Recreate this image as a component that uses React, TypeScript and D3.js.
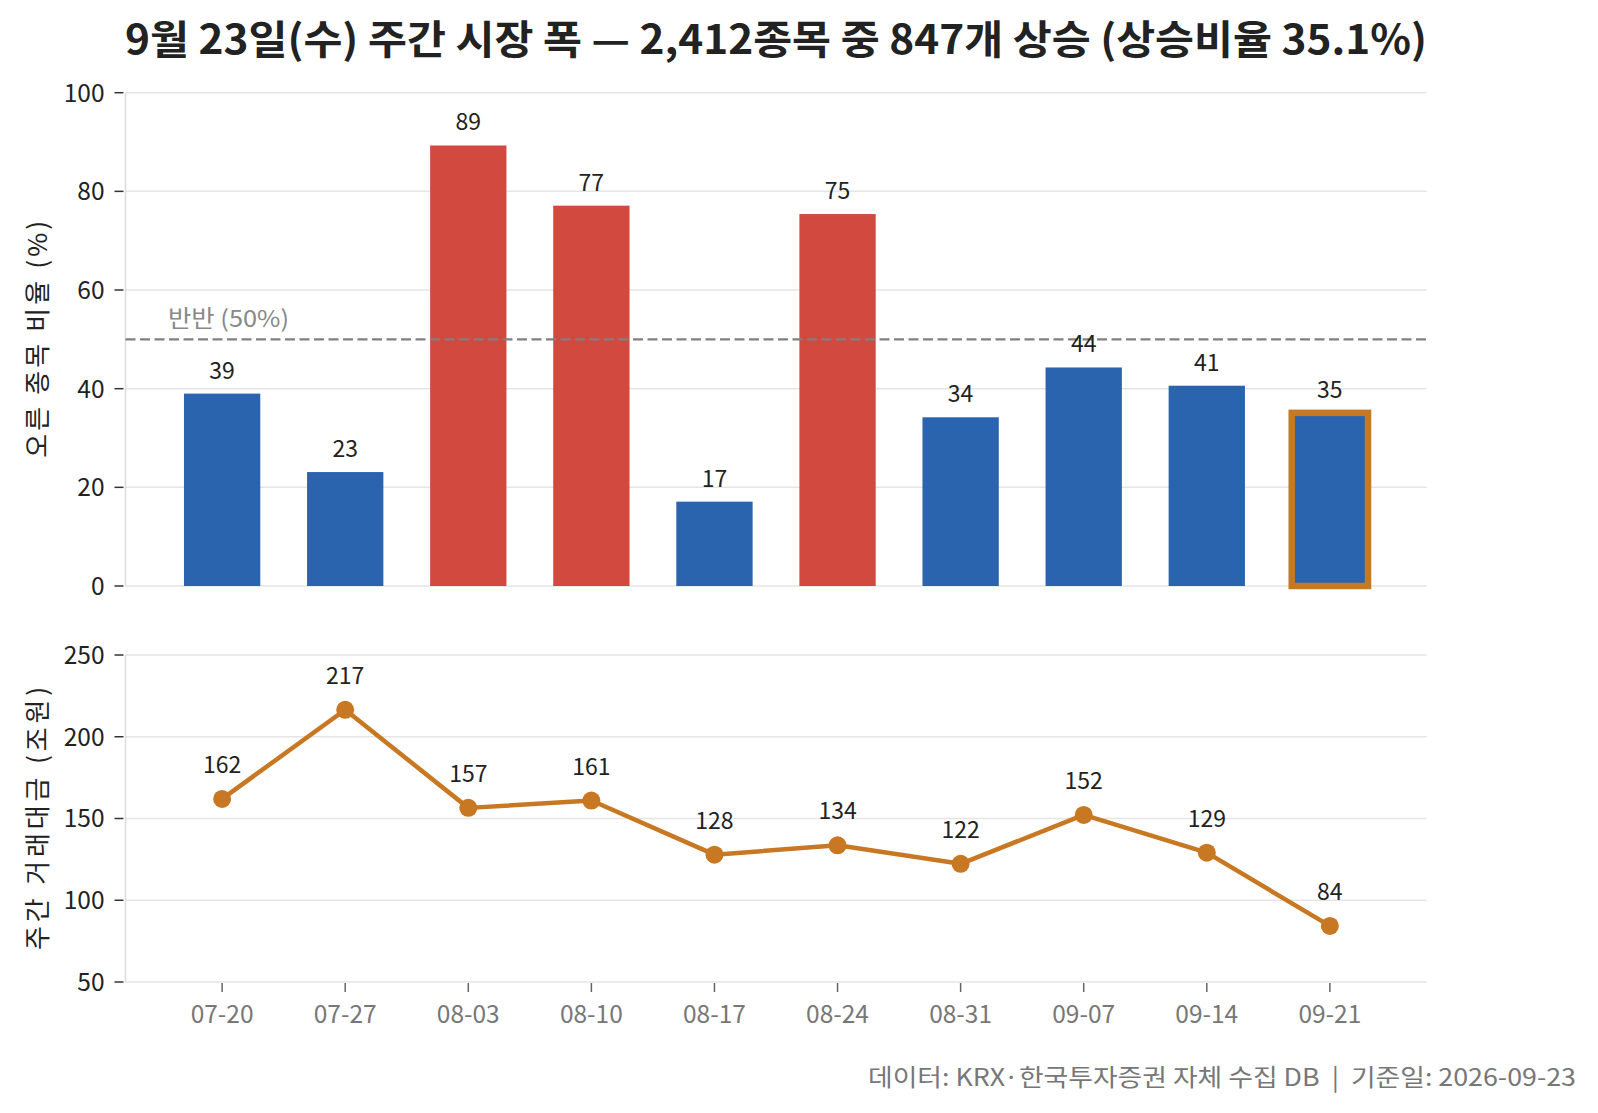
import React, { useEffect, useRef } from "react";
import * as d3 from "d3";

const weeks = ["07-20", "07-27", "08-03", "08-10", "08-17", "08-24", "08-31", "09-07", "09-14", "09-21"];
const upRatio = [39.0, 23.1, 89.3, 77.1, 17.1, 75.4, 34.2, 44.3, 40.6, 35.1];
const turnover = [162, 216.5, 156.5, 161, 127.9, 133.6, 122.3, 152.2, 129.1, 84.3];
const ratioTicks = [0, 20, 40, 60, 80, 100];
const turnoverTicks = [50, 100, 150, 200, 250];

const FONT = "'Noto Sans CJK KR', 'Noto Sans', sans-serif";
const BLUE = "#2a64ae";
const RED = "#d1493f";
const ORANGE = "#c87722";
const GRID = "#e5e5e5";

const App = () => {
  const svgRef: any = useRef();

  useEffect(() => {
    const width = 1598;
    const height = 1113;
    const left = 125.5;
    const right = 1426.5;
    const svg = d3.select(svgRef.current);
    svg.selectAll("*").remove();
    svg.attr("width", width).attr("height", height).style("font-family", FONT);

    const x = d3.scaleLinear().domain([-0.785, weeks.length - 1 + 0.785]).range([left, right]);
    const barW = x(0.62) - x(0);

    // title
    svg
      .append("text")
      .attr("x", (left + right) / 2)
      .attr("y", 54)
      .attr("text-anchor", "middle")
      .attr("font-size", 40)
      .attr("font-weight", "bold")
      .attr("fill", "#222")
      .attr("textLength", 1302)
      .attr("lengthAdjust", "spacingAndGlyphs")
      .text("9월 23일(수) 주간 시장 폭 — 2,412종목 중 847개 상승 (상승비율 35.1%)");

    // shared axis drawing for a panel
    const drawFrame = (g: any, y: any, ticks: number[], label: string, labelLen: number) => {
      g.selectAll(".grid")
        .data(ticks)
        .join("line")
        .attr("x1", left)
        .attr("x2", right)
        .attr("y1", (d: number) => y(d))
        .attr("y2", (d: number) => y(d))
        .attr("stroke", GRID)
        .attr("stroke-width", 1.5);

      const [y0, yTop] = y.range();
      g.append("line")
        .attr("x1", left)
        .attr("x2", left)
        .attr("y1", y0)
        .attr("y2", yTop)
        .attr("stroke", "#dcdcdc")
        .attr("stroke-width", 1.5);

      g.selectAll(".ytick")
        .data(ticks)
        .join("g")
        .each(function (d: number) {
          const t = d3.select(this);
          t.append("line")
            .attr("x1", left - 11)
            .attr("x2", left - 2)
            .attr("y1", y(d))
            .attr("y2", y(d))
            .attr("stroke", "#333")
            .attr("stroke-width", 1.5);
          t.append("text")
            .attr("x", left - 21)
            .attr("y", y(d))
            .attr("dy", "0.36em")
            .attr("text-anchor", "end")
            .attr("font-size", 24.5)
            .attr("fill", "#222")
            .text(d);
        });

      g.append("text")
        .attr("transform", `translate(47,${(y0 + yTop) / 2}) rotate(-90)`)
        .attr("text-anchor", "middle")
        .attr("font-size", 26)
        .attr("fill", "#222")
        .attr("textLength", labelLen)
        .attr("lengthAdjust", "spacing")
        .text(label);
    };

    // ---------- top panel ----------
    const y1 = d3.scaleLinear().domain([0, 100]).range([586, 92.7]);
    const top = svg.append("g");
    drawFrame(top, y1, ratioTicks, "오른 종목 비율 (%)", 237);

    top
      .selectAll(".bar")
      .data(upRatio)
      .join("rect")
      .attr("x", (d, i) => x(i) - barW / 2)
      .attr("y", (d) => y1(d))
      .attr("width", barW)
      .attr("height", (d) => y1(0) - y1(d))
      .attr("fill", (d) => (d >= 50 ? RED : BLUE));

    const last = upRatio.length - 1;
    top
      .append("rect")
      .attr("x", x(last) - barW / 2)
      .attr("y", y1(upRatio[last]))
      .attr("width", barW)
      .attr("height", y1(0) - y1(upRatio[last]))
      .attr("fill", "none")
      .attr("stroke", ORANGE)
      .attr("stroke-width", 6.5);

    top
      .append("line")
      .attr("x1", left)
      .attr("x2", right)
      .attr("y1", y1(50))
      .attr("y2", y1(50))
      .attr("stroke", "#808080")
      .attr("stroke-width", 2.2)
      .attr("stroke-dasharray", "10,4.5");

    top
      .append("text")
      .attr("x", 168)
      .attr("y", y1(50) - 12)
      .attr("font-size", 23.5)
      .attr("fill", "#888")
      .attr("textLength", 121)
      .attr("lengthAdjust", "spacingAndGlyphs")
      .text("반반 (50%)");

    top
      .selectAll(".vlabel")
      .data(upRatio)
      .join("text")
      .attr("x", (d, i) => x(i))
      .attr("y", (d) => y1(d) - 15)
      .attr("text-anchor", "middle")
      .attr("font-size", 23)
      .attr("fill", "#222")
      .text((d) => Math.round(d));

    // ---------- bottom panel ----------
    const y2 = d3.scaleLinear().domain([50, 250]).range([982, 655]);
    const bot = svg.append("g");
    drawFrame(bot, y2, turnoverTicks, "주간 거래대금 (조원)", 263);

    bot
      .selectAll(".xtick")
      .data(weeks)
      .join("g")
      .each(function (d, i) {
        const g = d3.select(this);
        g.append("line")
          .attr("x1", x(i))
          .attr("x2", x(i))
          .attr("y1", y2(50) + 1)
          .attr("y2", y2(50) + 10)
          .attr("stroke", "#666")
          .attr("stroke-width", 1.5);
        g.append("text")
          .attr("x", x(i))
          .attr("y", 1023)
          .attr("text-anchor", "middle")
          .attr("font-size", 24.5)
          .attr("fill", "#777")
          .text(d);
      });

    const line = d3
      .line<number>()
      .x((d, i) => x(i))
      .y((d) => y2(d));

    bot
      .append("path")
      .datum(turnover)
      .attr("d", line)
      .attr("fill", "none")
      .attr("stroke", ORANGE)
      .attr("stroke-width", 4.5)
      .attr("stroke-linejoin", "round");

    bot
      .selectAll(".dot")
      .data(turnover)
      .join("circle")
      .attr("cx", (d, i) => x(i))
      .attr("cy", (d) => y2(d))
      .attr("r", 9)
      .attr("fill", ORANGE);

    bot
      .selectAll(".vlabel")
      .data(turnover)
      .join("text")
      .attr("x", (d, i) => x(i))
      .attr("y", (d) => y2(d) - 26)
      .attr("text-anchor", "middle")
      .attr("font-size", 23)
      .attr("fill", "#222")
      .text((d) => Math.round(d));

    // footer
    svg
      .append("text")
      .attr("x", 1576)
      .attr("y", 1086)
      .attr("text-anchor", "end")
      .attr("font-size", 24)
      .attr("fill", "#777")
      .attr("textLength", 708)
      .attr("lengthAdjust", "spacingAndGlyphs")
      .style("white-space", "pre")
      .text("데이터: KRX·한국투자증권 자체 수집 DB  |  기준일: 2026-09-23");
  }, []);

  return (
    <svg
      ref={svgRef}
      style={{ position: "absolute", left: 0, top: 0, display: "block", background: "#fff" }}
    ></svg>
  );
};

export default App;
